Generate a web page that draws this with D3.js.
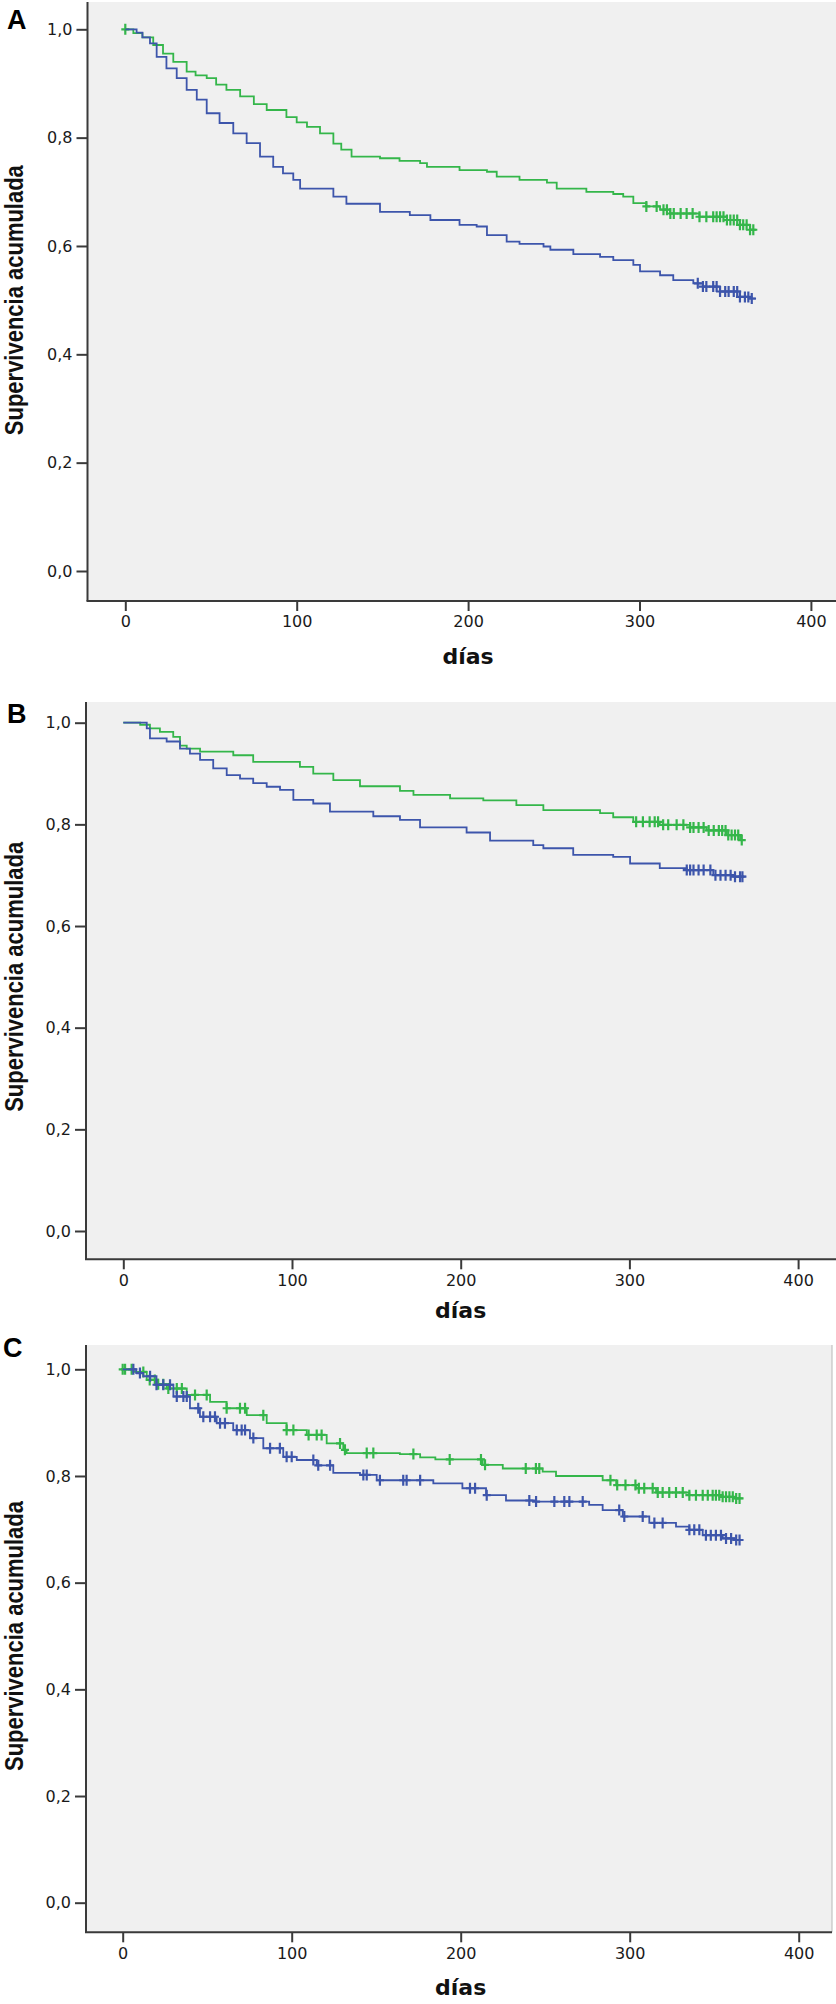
<!DOCTYPE html>
<html>
<head>
<meta charset="utf-8">
<script src="https://cdn.jsdelivr.net/npm/d3@7"></script>
<style>
    body { margin: 0; background: #fff; }
    svg { display: block; }
</style>
</head>
<body>
<svg id="chart" width="836" height="2004"></svg>
<script>
// Tick values shared by all three panels
const xTicks = [0, 100, 200, 300, 400];
const yTicks = [0, 0.2, 0.4, 0.6, 0.8, 1.0];

// Panel A - [día, supervivencia] (step after)
const aGreen = [[0,1.0],[4.7,0.993],[10,0.985],[16.3,0.971],[22,0.955],[28,0.940],[35.8,0.922],[41,0.915],[47.5,0.910],[53,0.898],[59,0.888],[67,0.876],[75,0.862],[82.5,0.851],[94,0.838],[100,0.828],[106,0.820],[113.6,0.808],[121.4,0.789],[126,0.778],[132,0.765],[148.6,0.762],[160,0.757],[172,0.753],[176,0.746],[195,0.740],[211,0.737],[216.7,0.728],[230,0.722],[246,0.717],[251.7,0.706],[269,0.700],[284.7,0.696],[290.5,0.691],[296.4,0.679],[304,0.673],[312,0.667],[317.8,0.660],[335,0.654],[351,0.648],[358.6,0.639],[364.5,0.630],[368,0.630]];
const aBlue = [[0,1.0],[6.6,0.994],[10,0.985],[14.4,0.974],[18.3,0.949],[24,0.928],[30,0.910],[35.8,0.888],[41.7,0.870],[47.5,0.845],[55,0.827],[63,0.808],[70.8,0.790],[78.6,0.765],[86.3,0.746],[92,0.734],[98,0.722],[102,0.706],[121.4,0.691],[129,0.678],[148.6,0.663],[166,0.657],[178,0.648],[195,0.639],[205,0.636],[211,0.620],[222.5,0.608],[230,0.604],[244,0.599],[248,0.593],[261.4,0.585],[277,0.580],[284.7,0.574],[296.4,0.565],[300.3,0.553],[312,0.546],[319.7,0.537],[331.4,0.531],[337,0.525],[347,0.516],[358.6,0.506],[364,0.503],[368,0.503]];
const aGreenCens = [0,304,310,314,316,318,320,324,327.5,331,335,339,343,345,347,349,351,353,355,357,358.6,360.5,362.5,364.5,366.4];
const aBlueCens = [334,337,339,343,345,347,350,352,355,357,358.6,361.5,363.5,365.5];

// Panel B
const bGreen = [[0,1.0],[10,0.996],[15.8,0.989],[21.7,0.982],[29.6,0.972],[33.6,0.955],[37.6,0.949],[45.5,0.943],[65.2,0.936],[77,0.923],[104.7,0.913],[112.6,0.900],[124.5,0.887],[140.3,0.875],[164,0.866],[172,0.858],[193.7,0.851],[213.4,0.847],[233,0.838],[249,0.828],[282.6,0.822],[290.4,0.814],[302.3,0.805],[318,0.799],[336,0.794],[345.8,0.788],[357.7,0.779],[365.6,0.769],[368.5,0.769]];
const bBlue = [[0,1.0],[13.9,0.989],[15.8,0.969],[25.7,0.963],[33.6,0.949],[39.5,0.939],[45.5,0.927],[53.3,0.910],[61.3,0.897],[69.2,0.890],[77,0.881],[85,0.874],[92.9,0.868],[100.8,0.848],[112.6,0.841],[122.5,0.825],[148.2,0.816],[164,0.809],[175.9,0.794],[203.5,0.784],[217.4,0.768],[243,0.759],[249,0.753],[266.7,0.740],[290.4,0.736],[300.4,0.723],[318,0.714],[334,0.710],[349.7,0.700],[361.6,0.697],[368.5,0.696]];
const bGreenCens = [304,308,312,315,317,320,323,328,332,336,338,341,344,347,350,353,355,357,358.6,360.6,362.6,364.5,366.6];
const bBlueCens = [334,336,338,341,344,348,351,354,357,360,362.6,365.6,367];

// Panel C
const cGreen = [[0,1.0],[6.3,0.995],[14.2,0.980],[20,0.972],[26,0.964],[37.9,0.952],[51.7,0.939],[61.5,0.927],[73.4,0.914],[85.2,0.899],[97,0.886],[108.9,0.877],[120.7,0.861],[130.5,0.849],[132.5,0.843],[164,0.841],[176,0.835],[185,0.831],[213,0.821],[224.9,0.814],[248.5,0.808],[256.4,0.800],[284,0.792],[292,0.783],[303.7,0.777],[315.6,0.769],[335.3,0.764],[355,0.761],[362,0.758],[366.9,0.758]];
const cBlue = [[0,1.0],[8,0.993],[12.2,0.987],[20,0.971],[30,0.949],[39.8,0.927],[45.7,0.911],[55.6,0.899],[65.4,0.886],[75.3,0.871],[83.2,0.852],[95,0.836],[103,0.830],[114.8,0.820],[124.6,0.806],[140.4,0.802],[150.3,0.792],[183.8,0.786],[201,0.777],[215,0.764],[226.8,0.754],[244.6,0.752],[276,0.746],[284,0.736],[295.9,0.724],[311.6,0.712],[327.4,0.705],[335.3,0.699],[343.2,0.689],[355,0.683],[362,0.680],[366.9,0.680]];
const cGreenCens = [0,1.4,5.3,12.2,16,19,21,24,27,32,35,42.8,49.7,61.5,69.4,72.4,83.2,97,101,110,114.8,117.7,128.6,131.5,144.4,148.3,172,193.5,212,214.4,238.5,244.5,246.5,288.6,292.6,297.5,303.4,305.4,308.6,313.6,316.6,319.5,323.4,327.4,331.4,335.3,339.2,343.2,346.2,349.1,351,353,355,357,359,361,363,365];
const cBlueCens = [6.3,10.2,16.2,20,24,28,32,35.9,37.9,44.7,47.7,51.7,54.6,57.6,60.5,67.5,70.4,72.4,77.3,87.2,93,97,100,112.8,115.7,122.7,142.4,144.4,152.2,166,168,176,205.5,208.5,215.4,240.6,244.6,255.4,261.3,264.3,272.2,293.8,296.8,307.7,314.6,319.5,335.3,338.2,341.2,345.1,348,351,354,357,360,363,365];

const green = '#34b64a';
const blue = '#3d55ab';
const axisColor = '#3a3a3a';

// Layout of each panel on the page
const panels = [
    { letter: 'A', left: 87.5, right: 836, top: 2, bottom: 601, x0: 125.3, x400: 810.9, y1: 29.3, y0: 571, letterX: 7, letterY: 29, titleY: 664, green: aGreen, blue: aBlue, greenCens: aGreenCens, blueCens: aBlueCens },
    { letter: 'B', left: 86, right: 836, top: 702, bottom: 1259.3, x0: 123.3, x400: 798.1, y1: 722.7, y0: 1231, letterX: 7, letterY: 723, titleY: 1318, green: bGreen, blue: bBlue, greenCens: bGreenCens, blueCens: bBlueCens },
    { letter: 'C', left: 86, right: 832, top: 1345, bottom: 1932.3, x0: 122.7, x400: 798.7, y1: 1369.3, y0: 1902.7, letterX: 3, letterY: 1357, titleY: 1995, green: cGreen, blue: cBlue, greenCens: cGreenCens, blueCens: cBlueCens, rightLine: true }
];

const svg = d3.select('#chart');
const fmt = d => d3.format('.1f')(d).replace('.', ',');
const bisect = d3.bisector(d => d[0]).right;

// value of the step curve at day t
function stepAt(series, t) {
    const i = bisect(series, t);
    return series[Math.max(0, i - 1)][1];
}

panels.forEach(p => {
    const g = svg.append('g');
    const x = d3.scaleLinear().domain([0, 400]).range([p.x0, p.x400]);
    const y = d3.scaleLinear().domain([0, 1]).range([p.y0, p.y1]);

    // plot background
    g.append('rect')
        .attr('x', p.left)
        .attr('y', p.top)
        .attr('width', p.right - p.left)
        .attr('height', p.bottom - p.top)
        .attr('fill', '#f0f0f0');

    if (p.rightLine) {
        g.append('line')
            .attr('x1', p.right).attr('x2', p.right)
            .attr('y1', p.top).attr('y2', p.bottom)
            .attr('stroke', '#b8b8b8')
            .attr('stroke-width', 1);
    }

    const line = d3.line()
        .x(d => x(d[0]))
        .y(d => y(d[1]))
        .curve(d3.curveStepAfter);

    [[p.green, p.greenCens, green], [p.blue, p.blueCens, blue]].forEach(([series, cens, color]) => {
        g.append('path')
            .datum(series)
            .attr('fill', 'none')
            .attr('stroke', color)
            .attr('stroke-width', 1.8)
            .attr('d', line);

        // censored cases as + marks
        g.append('g')
            .selectAll('path')
            .data(cens)
            .join('path')
            .attr('d', t => {
                const cx = x(t), cy = y(stepAt(series, t));
                return `M${cx},${cy - 5.5}V${cy + 5.5}M${cx - 4},${cy}H${cx + 4}`;
            })
            .attr('stroke', color)
            .attr('stroke-width', 2.2)
            .attr('fill', 'none');
    });

    // axis lines spanning the whole plot
    g.append('line')
        .attr('x1', p.left).attr('x2', p.left)
        .attr('y1', p.top).attr('y2', p.bottom)
        .attr('stroke', axisColor).attr('stroke-width', 2);
    g.append('line')
        .attr('x1', p.left - 1).attr('x2', p.right)
        .attr('y1', p.bottom).attr('y2', p.bottom)
        .attr('stroke', axisColor).attr('stroke-width', 2);

    const yAxis = g.append('g')
        .attr('transform', `translate(${p.left},0)`)
        .call(d3.axisLeft(y).tickValues(yTicks).tickFormat(fmt).tickSize(11).tickPadding(4));
    const xAxis = g.append('g')
        .attr('transform', `translate(0,${p.bottom})`)
        .call(d3.axisBottom(x).tickValues(xTicks).tickSize(10).tickPadding(5));

    [yAxis, xAxis].forEach(a => {
        a.select('.domain').remove();
        a.selectAll('.tick line').attr('stroke', axisColor).attr('stroke-width', 2);
        a.selectAll('.tick text')
            .attr('fill', '#1a1a1a')
            .style('font-family', '"DejaVu Sans", Verdana, sans-serif')
            .style('font-size', '16px');
    });

    // titles
    g.append('text')
        .attr('x', x(200))
        .attr('y', p.titleY)
        .attr('text-anchor', 'middle')
        .style('font-family', '"DejaVu Sans", Verdana, sans-serif')
        .style('font-weight', 'bold')
        .style('font-size', '22px')
        .attr('fill', '#111')
        .text('días');

    g.append('text')
        .attr('transform', `translate(23,${(p.y0 + p.y1) / 2}) rotate(-90)`)
        .attr('text-anchor', 'middle')
        .attr('textLength', 270)
        .attr('lengthAdjust', 'spacingAndGlyphs')
        .style('font-family', '"Liberation Sans Narrow", "Arial Narrow", "Liberation Sans", Arial, sans-serif')
        .style('font-weight', 'bold')
        .style('font-size', '26px')
        .attr('fill', '#111')
        .text('Supervivencia acumulada');

    g.append('text')
        .attr('x', p.letterX)
        .attr('y', p.letterY)
        .style('font-family', '"Liberation Sans", Arial, sans-serif')
        .style('font-weight', 'bold')
        .style('font-size', '27px')
        .attr('fill', '#000')
        .text(p.letter);
});
</script>
</body>
</html>
